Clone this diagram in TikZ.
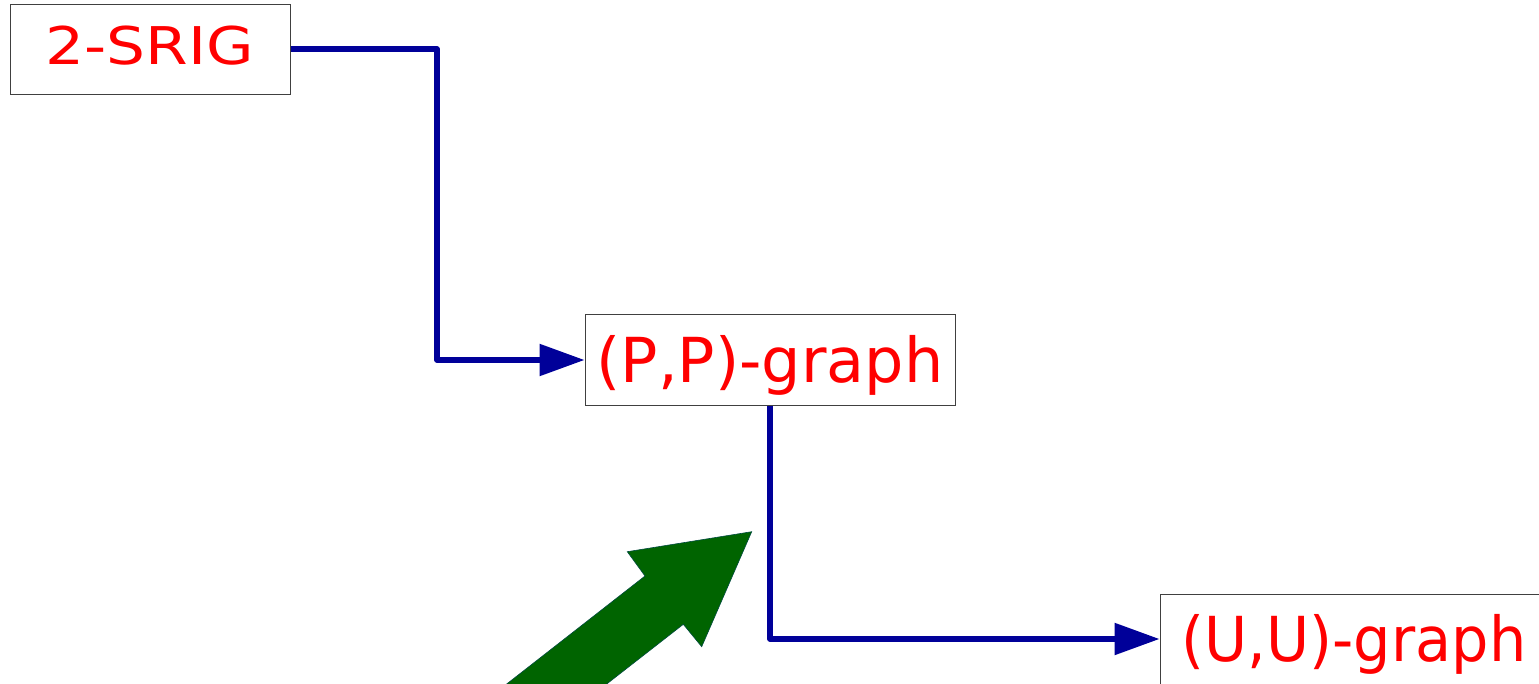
\documentclass[tikz,border=0pt]{standalone}
\usepackage{fontspec}
\setmainfont{DejaVu Sans}
\usetikzlibrary{arrows.meta}
\definecolor{lnblue}{RGB}{0,0,153}
\definecolor{arrgreen}{RGB}{0,100,0}
\definecolor{txtred}{RGB}{255,0,0}
\begin{document}
\begin{tikzpicture}[x=1pt,y=-1pt,
  box/.style={draw=black!75,line width=1pt,fill=white,minimum height=90pt,inner sep=0pt,
    text=txtred,font=\fontsize{62}{70}\selectfont,text height=45pt,text depth=0pt},
  conn/.style={draw=lnblue,line width=5.5pt,line join=round,-{Triangle[length=45pt,width=31pt]}},
  bigarrow/.style={fill=arrgreen,draw=arrgreen!75!blue,line width=0.6pt,line join=miter}]
\useasboundingbox (0,0) rectangle (1539,684);
\clip (0,0) rectangle (1539,684);
\node[box,minimum width=280pt,text height=29pt] (srig) at (150,50)
  {\scalebox{1.18}[1]{\fontsize{52}{60}\selectfont 2-SRIG}};
\node[box,minimum width=370pt] (pp) at (770,360) {(P,P)-graph};
\node[box,minimum width=388pt] (uu) at (1354,639) {\scalebox{0.95}[1]{(U,U)-graph}};
\coordinate (bend1) at (437,49);
\draw[conn] (srig.east |- bend1) -- (bend1) |- (pp.west);
\draw[conn] (pp.south) |- (uu.west);
\path[bigarrow] (751.7,531.7) -- (627.3,551.7) -- (645,576) -- (486.2,700)
  -- (586.2,700) -- (683.3,624.3) -- (701.7,646.7) -- cycle;
\end{tikzpicture}
\end{document}
